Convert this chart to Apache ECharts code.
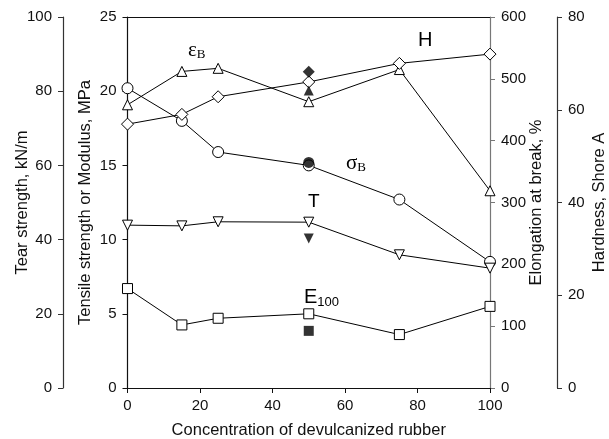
<!DOCTYPE html>
<html><head><meta charset="utf-8">
<script src="https://cdn.jsdelivr.net/npm/echarts@6/dist/echarts.min.js"></script>
<style>html,body{margin:0;padding:0;background:#fff}#c{width:609px;height:439px}</style>
</head><body><div id="c"></div>
<script>
const concentration = [0, 15, 25, 50, 75, 100];
const tensileStrength = [20.2, 18.0, 15.9, 15.0, 12.7, 8.5];      // sigma_B, MPa
const elongation = [458, 512, 517, 463, 515, 319];                 // epsilon_B, %
const hardness = [56.9, 59.0, 62.8, 66.0, 70.0, 72.0];             // H, Shore A
const tearStrength = [43.9, 43.7, 44.8, 44.7, 35.9, 32.3];         // T, kN/m
const modulus100 = [6.7, 4.25, 4.7, 5.0, 3.6, 5.5];                // E100, MPa
const filledX = 50;
const filledTensile = 15.2, filledElongation = 481, filledHardness = 68.2, filledTear = 40.3, filledModulus = 3.85;
const xTicks = [0, 20, 40, 60, 80, 100];

const font = 'Liberation Sans, Arial, sans-serif';
const serif = 'Liberation Serif, Times New Roman, serif';
const pair = (xs, ys) => xs.map((x, i) => [x, ys[i]]);

function lineSeries(ys, yIdx, symbol, size, rotate) {
  return { type: 'line', yAxisIndex: yIdx, data: pair(concentration, ys), symbol: symbol, symbolSize: size,
    symbolRotate: rotate || 0, showAllSymbol: true,
    lineStyle: { color: '#000', width: 1 }, itemStyle: { color: '#fff', borderColor: '#000', borderWidth: 1 },
    z: 3, animation: false };
}
function filled(y, yIdx, symbol, size, rotate) {
  return { type: 'scatter', yAxisIndex: yIdx, data: [[filledX, y]], symbol: symbol, symbolSize: size,
    symbolRotate: rotate || 0, itemStyle: { color: '#000' }, z: 4, animation: false };
}
function yAx(pos, offset, min, max, interval, name, gap, lineColor) {
  return { type: 'value', position: pos, offset: offset, min: min, max: max, interval: interval,
    name: name, nameLocation: 'middle', nameRotate: 90, nameGap: gap, nameMoveOverlap: false,
    nameTextStyle: { fontFamily: font, fontSize: 16.5, color: '#111' },
    axisLine: { show: true, onZero: false, lineStyle: { color: lineColor, width: 1.2 } },
    axisTick: { show: true, inside: false, length: 5, lineStyle: { color: lineColor } },
    axisLabel: { fontFamily: font, fontSize: 15, color: '#111', margin: 11 },
    splitLine: { show: false } };
}

const chart = echarts.init(document.getElementById('c'));
chart.setOption({
  animation: false,
  backgroundColor: '#fff',
  grid: { left: 127.5, right: 119, top: 17, bottom: 51, containLabel: false, outerBoundsMode: 'none' },
  xAxis: [
    { type: 'value', min: 0, max: 100, interval: 20, position: 'bottom',
      name: 'Concentration of devulcanized rubber', nameLocation: 'middle', nameGap: 34,
      nameTextStyle: { fontFamily: font, fontSize: 16.5, color: '#111' },
      axisLine: { onZero: false, lineStyle: { color: '#111', width: 1.2 } },
      axisTick: { show: true, length: 5, lineStyle: { color: '#111' } },
      axisLabel: { fontFamily: font, fontSize: 15, color: '#111', margin: 10,
        formatter: v => xTicks.includes(v) ? String(v) : '' },
      splitLine: { show: false } },
    { type: 'value', min: 0, max: 100, position: 'top',
      axisLine: { onZero: false, lineStyle: { color: '#111', width: 1.2 } },
      axisTick: { show: false }, axisLabel: { show: false }, splitLine: { show: false } }
  ],
  yAxis: [
    yAx('left', 0, 0, 25, 5, 'Tensile strength or Modulus, MPa', 34, '#111'),
    yAx('left', 64.5, 0, 100, 20, 'Tear strength, kN/m', 32, '#333'),
    yAx('right', 0, 0, 600, 100, 'Elongation at break, %', 38, '#777'),
    yAx('right', 67, 0, 80, 20, 'Hardness, Shore A', 34, '#333')
  ],
  series: [
    lineSeries(tensileStrength, 0, 'circle', 11),
    lineSeries(elongation, 2, 'triangle', 10),
    lineSeries(hardness, 3, 'diamond', 12),
    lineSeries(tearStrength, 1, 'triangle', 10, 180),
    lineSeries(modulus100, 0, 'rect', 10),
    filled(filledTensile, 0, 'circle', 11),
    filled(filledElongation, 2, 'triangle', 10),
    filled(filledHardness, 3, 'diamond', 12),
    filled(filledTear, 1, 'triangle', 10, 180),
    filled(filledModulus, 0, 'rect', 10)
  ],
  graphic: [
    { type: 'text', left: 188, top: 40, style: { text: '{a|ε}{b|B}', rich: {
      a: { fontFamily: serif, fontSize: 21, fill: '#000' },
      b: { fontFamily: serif, fontSize: 13, fill: '#000', padding: [9, 0, 0, 0] } } } },
    { type: 'text', left: 346, top: 153, style: { text: '{a|σ}{b|B}', rich: {
      a: { fontFamily: serif, fontSize: 21, fill: '#000' },
      b: { fontFamily: serif, fontSize: 13, fill: '#000', padding: [9, 0, 0, 0] } } } },
    { type: 'text', left: 418, top: 30, style: { text: 'H', fontFamily: font, fontSize: 20, fill: '#000' } },
    { type: 'text', left: 308, top: 192, style: { text: 'T', fontFamily: font, fontSize: 19, fill: '#000' } },
    { type: 'text', left: 304, top: 287, style: { text: '{a|E}{b|100}', rich: {
      a: { fontFamily: font, fontSize: 20, fill: '#000' },
      b: { fontFamily: font, fontSize: 13, fill: '#000', padding: [10, 0, 0, 0] } } } }
  ]
});
</script></body></html>
